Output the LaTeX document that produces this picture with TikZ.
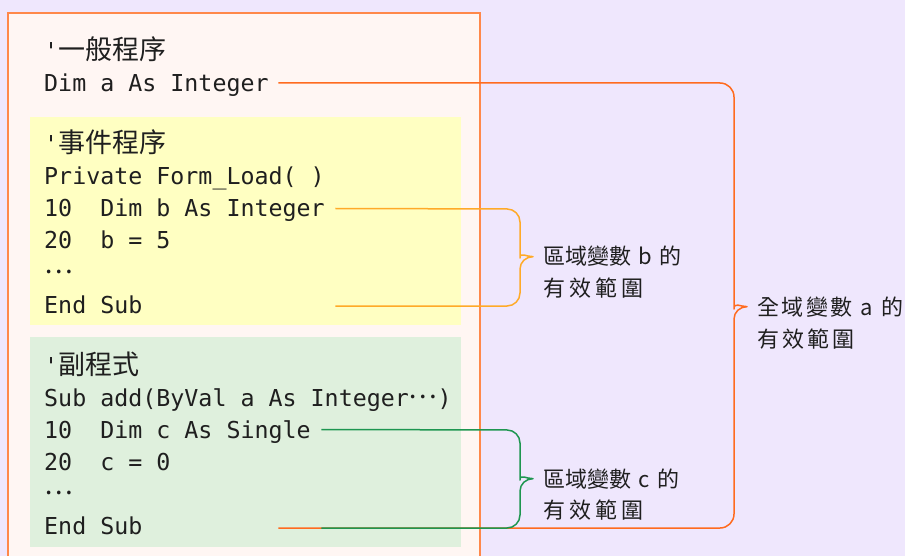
\documentclass[tikz,border=0pt]{standalone}
\usepackage{fontspec}
\setmonofont{DejaVu Sans Mono}
\newfontfamily\cjk{Noto Sans CJK TC}
\usetikzlibrary{positioning}

\definecolor{bgpurple}{HTML}{EFE7FD}
\definecolor{scopefill}{HTML}{FFF6F3}
\definecolor{scopeline}{HTML}{FF884A}
\definecolor{eventfill}{HTML}{FFFFC2}
\definecolor{subfill}{HTML}{DFF0DD}
\definecolor{orangea}{HTML}{FF6B1F}
\definecolor{amberb}{HTML}{FFAA28}
\definecolor{greenc}{HTML}{1E9650}

\newcommand{\zh}[1]{{\fontsize{27}{27}\selectfont\cjk #1}}
\newcommand{\middots}{\raisebox{8pt}[10pt][0pt]{\zh{…}}}
\newcommand{\gap}{\hspace{4pt}}

\tikzset{
  code/.style={anchor=base west, inner sep=0pt, text=black!88,
    font=\fontsize{23.3}{28}\selectfont\ttfamily},
  lbl/.style={anchor=base west, inner sep=0pt, text=black!88,
    font=\fontsize{22}{26}\selectfont\cjk},
  scope line/.style={line width=1.5pt, line join=round},
}

\begin{document}
\begin{tikzpicture}[x=1pt,y=-1pt]
\useasboundingbox (0,0) rectangle (905,556);
\fill[bgpurple] (0,0) rectangle (905,556);
% the module box, open at the bottom
\fill[scopefill] (8,13) rectangle (480,556);
\draw[scopeline, line width=2.5pt] (8,560) -- (8,13) -- (480,13) -- (480,560);
\fill[eventfill] (30,117) rectangle (461,325);
\fill[subfill] (30,337) rectangle (461,547);

% general part
\node[code] (gen0) at (44,60) {'\zh{一般程序}};
\node[code] (dima) at (44,92) {Dim a As Integer};
% event procedure
\node[code] (evt0) at (44,153) {'\zh{事件程序}};
\node[code] (evt1) at (44,185) {Private Form\_Load( )};
\node[code] (dimb) at (44,217) {10\ \ Dim b As Integer};
\node[code] (setb) at (44,249) {20\ \ b = 5};
\node[code] (dotb) at (44,281) {\middots};
\node[code] (endb) at (44,313) {End Sub};
% sub procedure
\node[code] (sub0) at (44,374) {'\zh{副程式}};
\node[code] (sub1) at (44,406) {Sub add(ByVal a As Integer\middots)};
\node[code] (dimc) at (44,438) {10\ \ Dim c As Single};
\node[code] (setc) at (44,470) {20\ \ c = 0};
\node[code] (dotc) at (44,502) {\middots};
\node[code] (endc) at (44,534) {End Sub};

% labels
\node[lbl] (lblb) at (543,265) {區域變數\hspace{7pt}b\hspace{8pt}的};
\node[lbl] (lblb2) at ([yshift=-31pt]lblb.base west) {有\gap 效\gap 範\gap 圍};
\node[lbl] (lblc) at (543,487) {區域變數\hspace{7pt}c\hspace{8pt}的};
\node[lbl] (lblc2) at ([yshift=-31pt]lblc.base west) {有\gap 效\gap 範\gap 圍};
\node[lbl] (lbla) at (757,315) {全\hspace{2.5pt}域\hspace{2.5pt}變\hspace{2.5pt}數\hspace{8pt}a\hspace{8pt}的};
\node[lbl] (lbla2) at ([yshift=-32pt]lbla.base west) {有\hspace{3pt}效\hspace{3pt}範\hspace{3pt}圍};

% brace ends
\coordinate (sa) at ([shift={(9.5pt,9pt)}]dima.base east);
\coordinate (ea) at ([yshift=6pt]sa |- endc.base);
\coordinate (sb) at ([shift={(10.5pt,8.5pt)}]dimb.base east);
\coordinate (eb) at ([yshift=7pt]sb |- endb.base);
\coordinate (sc) at ([shift={(10.5pt,8.5pt)}]dimc.base east);
\coordinate (ec) at ([yshift=6pt]sc |- endc.base);
\coordinate (tipa) at ([xshift=-10pt]lbla.west);
\coordinate (tipb) at ([xshift=-10pt]lblb.west);
\coordinate (tipc) at ([xshift=-10pt]lblc.west);

% global scope of a
\draw[scope line, orangea] (sa) [rounded corners=14pt] -- (734,83) -- (734,295)
  [sharp corners] to[out=-90,in=180] (tipa) to[out=180,in=90] (734,319)
  [rounded corners=14pt] -- (734,528) -- (ea);
% local scope of b
\draw[scope line, amberb] (sb) [rounded corners=13pt] -- (520,209) -- (520,245)
  [sharp corners] to[out=-90,in=180] (tipb) to[out=180,in=90] (520,269)
  [rounded corners=13pt] -- (520,306) -- (eb);
% local scope of c
\draw[scope line, greenc] (sc) [rounded corners=13pt] -- (520,430) -- (520,467)
  [sharp corners] to[out=-90,in=180] (tipc) to[out=180,in=90] (520,491)
  [rounded corners=13pt] -- (520,528) -- (ec);
\end{tikzpicture}
\end{document}
